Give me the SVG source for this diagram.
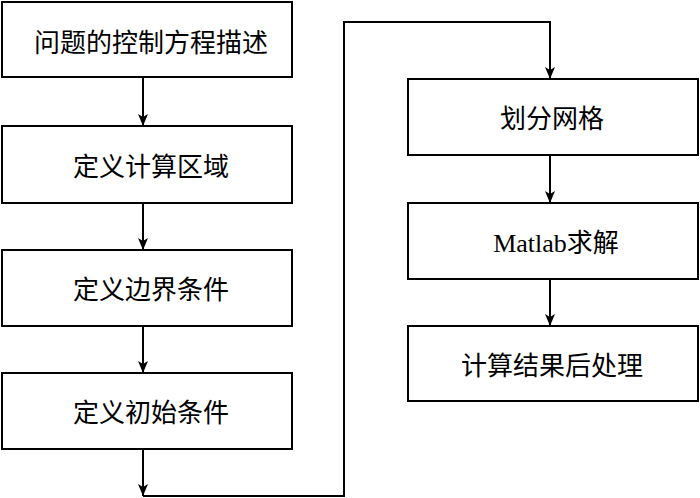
<svg xmlns="http://www.w3.org/2000/svg" width="700" height="498" viewBox="0 0 700 498">
<style>
.box{fill:#fff;stroke:#000;stroke-width:2}
.lbl{font-family:"Liberation Serif","Noto Sans CJK SC",serif;font-size:26px;fill:#000;text-anchor:middle}
.con{fill:none;stroke:#000;stroke-width:2}
</style>
<defs>
<marker id="ah" viewBox="0 0 12 10" refX="12" refY="5" markerWidth="12" markerHeight="10" markerUnits="userSpaceOnUse" orient="auto">
<path d="M0,0 L12,5 L0,10 L3,5 Z" fill="#000"/>
</marker>
</defs>
<rect width="700" height="498" fill="#fff"/>
<g id="connectors">
<path class="con" d="M143,77 V126" marker-end="url(#ah)"/>
<path class="con" d="M143,203 V250" marker-end="url(#ah)"/>
<path class="con" d="M143,326 V373" marker-end="url(#ah)"/>
<path class="con" d="M143,449 V496" marker-end="url(#ah)"/>
<path class="con" d="M143,496 H344 V22 H550 V79" marker-end="url(#ah)"/>
<path class="con" d="M550,155 V203" marker-end="url(#ah)"/>
<path class="con" d="M550,279 V326" marker-end="url(#ah)"/>
</g>
<g id="n1"><rect class="box" x="2" y="2" width="290" height="75"/><text class="lbl" x="151" y="52">问题的控制方程描述</text></g>
<g id="n2"><rect class="box" x="2" y="126" width="290" height="77"/><text class="lbl" x="151" y="176">定义计算区域</text></g>
<g id="n3"><rect class="box" x="2" y="250" width="290" height="76"/><text class="lbl" x="151" y="299">定义边界条件</text></g>
<g id="n4"><rect class="box" x="2" y="373" width="290" height="76"/><text class="lbl" x="151" y="422">定义初始条件</text></g>
<g id="n5"><rect class="box" x="408" y="79" width="290" height="76"/><text class="lbl" x="552" y="128">划分网格</text></g>
<g id="n6"><rect class="box" x="408" y="203" width="290" height="76"/><text class="lbl" x="556" y="252">Matlab求解</text></g>
<g id="n7"><rect class="box" x="408" y="326" width="290" height="75"/><text class="lbl" x="552" y="375">计算结果后处理</text></g>
</svg>
